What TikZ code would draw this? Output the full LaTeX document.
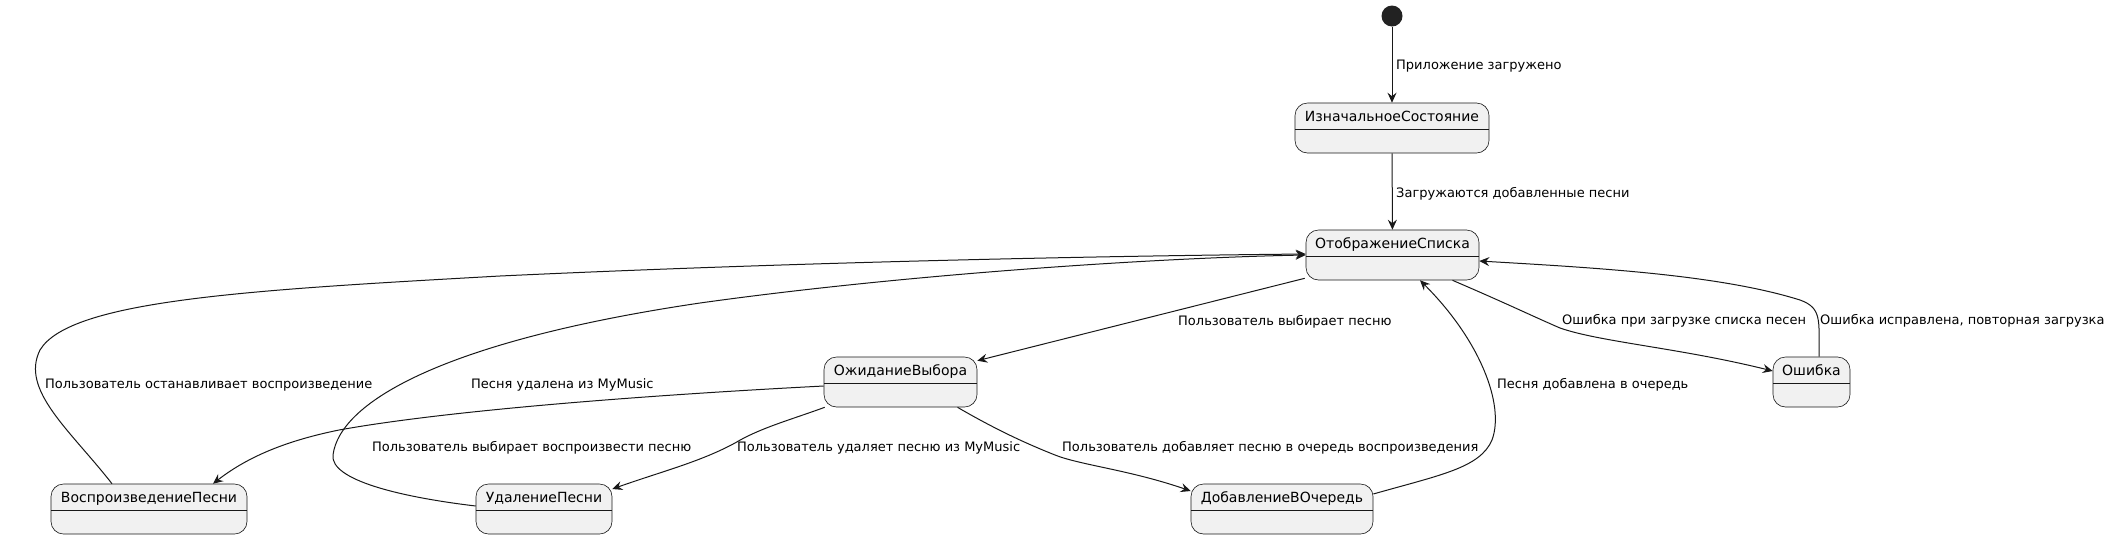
\documentclass[tikz,border=0pt]{standalone}
\usepackage{fontspec}
\setmainfont{DejaVu Sans}
\usetikzlibrary{arrows.meta}
\definecolor{lc}{HTML}{181818}
\definecolor{sf}{HTML}{F1F1F1}
\definecolor{dot}{HTML}{222222}
\tikzset{
 st/.style={draw=lc, line width=0.6pt, fill=sf, rounded corners=12.5pt, inner xsep=0pt, inner ysep=0pt,
   minimum height=50pt, text height=18pt, text depth=32pt, align=center, font=\fontsize{14}{16}\selectfont,
   path picture={\draw[lc, line width=0.6pt] ([yshift=-1pt]path picture bounding box.west) -- ([yshift=-1pt]path picture bounding box.east);}},
 tr/.style={draw=lc, line width=1pt, -{Stealth[length=10pt,width=9pt,inset=3.5pt]}},
 lb/.style={inner sep=0pt, anchor=base west, font=\fontsize{13}{15}\selectfont, text=black},
}
\begin{document}
\begin{tikzpicture}[x=1pt,y=-1pt]
\useasboundingbox (0,0) rectangle (2107,539);
% nodes
\node[circle, fill=dot, minimum size=21pt, inner sep=0pt] (start) at (1392,16) {};
\node[st, minimum width=194pt] (init) at (1392,128) {ИзначальноеСостояние};
\node[st, minimum width=173pt] (list) at (1392.5,255) {ОтображениеСписка};
\node[st, minimum width=153pt] (wait) at (900.5,382) {ОжиданиеВыбора};
\node[st, minimum width=77pt] (err) at (1811.5,382) {Ошибка};
\node[st, minimum width=196pt] (play) at (149,509) {ВоспроизведениеПесни};
\node[st, minimum width=136pt] (del) at (544,509) {УдалениеПесни};
\node[st, minimum width=182pt] (add) at (1282,509) {ДобавлениеВОчередь};
% edges
\draw[tr] (start) -- (init);
\draw[tr] (init) -- (list);
\draw[tr] ([xshift=-1pt,yshift=2pt]list.south west) -- ([yshift=-4pt]wait.north east);
\draw[tr] ([xshift=60pt]list.south) .. controls (1510,305) and (1530,315) .. (1560,328)
   .. controls (1600,342) and (1680,348) .. ([yshift=11pt]err.west);
\draw[tr] ([xshift=7.5pt]err.north) .. controls (1819,320) and (1822,308) .. (1800,300)
   .. controls (1720,275) and (1600,268) .. ([yshift=-6pt]list.east);
\draw[tr] ([yshift=15pt]add.east) .. controls (1440,475) and (1480,468) .. (1492,440)
   .. controls (1505,405) and (1480,340) .. ([xshift=27.5pt]list.south);
\draw[tr] ([xshift=57pt]wait.south) .. controls (1000,432) and (1030,445) .. (1055,455)
   .. controls (1080,465) and (1130,470) .. ([yshift=18pt]add.west);
\draw[tr] ([xshift=1pt]wait.south west) .. controls (790,420) and (760,428) .. (735,443)
   .. controls (700,462) and (660,472) .. ([yshift=20pt]del.east);
\draw[tr] ([yshift=-4pt]wait.west) .. controls (650,395) and (450,410) .. (339,430)
   .. controls (290,440) and (250,455) .. ([xshift=64pt]play.north);
\draw[tr] ([xshift=-37pt]play.north) .. controls (70,430) and (20,390) .. (40,350)
   .. controls (70,300) and (250,290) .. (500,276) .. controls (800,262) and (1100,256) .. ([yshift=1pt]list.west);
\draw[tr] ([yshift=3pt]del.west) .. controls (400,497) and (330,480) .. (333,455)
   .. controls (340,400) and (450,340) .. (700,303) .. controls (900,275) and (1150,258) .. ([yshift=0pt]list.west);
% labels
\node[lb] (l1) at (1396,69) {Приложение загружено};
\node[lb] (l2) at (1396,197) {Загружаются добавленные песни};
\node[lb] (l3) at (1178,325) {Пользователь выбирает песню};
\node[lb] (l4) at (1562,324) {Ошибка при загрузке списка песен};
\node[lb] (l5) at (1820,324) {Ошибка исправлена, повторная загрузка};
\node[lb] (l6) at (1497,388) {Песня добавлена в очередь};
\node[lb] (l7) at (1062,451) {Пользователь добавляет песню в очередь воспроизведения};
\node[lb] (l8) at (737,451) {Пользователь удаляет песню из MyMusic};
\node[lb] (l9) at (372,451) {Пользователь выбирает воспроизвести песню};
\node[lb] (l10) at (45,388) {Пользователь останавливает воспроизведение};
\node[lb] (l11) at (471,388) {Песня удалена из MyMusic};
\end{tikzpicture}
\end{document}
